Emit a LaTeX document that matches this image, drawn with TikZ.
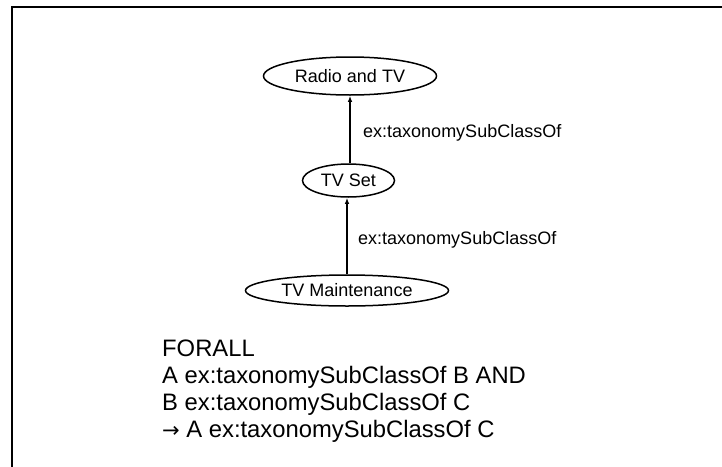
\documentclass[tikz,border=0pt]{standalone}
\usepackage{tikz}
\usepackage{xcolor}
\usepackage{fontspec}
\setmainfont{Liberation Sans}
\newfontfamily\arrowfont{DejaVu Sans}
\usetikzlibrary{shapes.geometric,arrows.meta,positioning}

\begin{document}
\begin{tikzpicture}[x=1pt,y=-1pt]
\tikzstyle{every node}+=[inner sep=0pt]
\tikzstyle{classnode}=[draw=black, ellipse, line width=1.5pt, font=\fontsize{18}{21}\selectfont]
\tikzstyle{subarrow}=[black, line width=1.3pt, -{Latex[length=6pt,width=4.5pt]}]
\tikzstyle{edgelabel}=[anchor=west, font=\fontsize{18}{21}\selectfont]
\tikzstyle{rulestyle}=[anchor=base west, font=\fontsize{23.8}{27}\selectfont]
\useasboundingbox (0,0) rectangle (722,466);
\clip (0,0) rectangle (722,466);
\draw [black, line width=2pt] (12,7) rectangle (760,500);
\node [classnode, minimum width=173pt, minimum height=38pt] (radio) at (350,76) {Radio and TV};
\node [classnode, minimum width=92pt, minimum height=33pt] (tvset) at (348.5,180.5) {TV Set};
\node [classnode, minimum width=203pt, minimum height=31pt] (maint) at (347,290.5) {TV Maintenance};
\draw [subarrow] (tvset.north -| radio.south) -- (radio.south);
\node [edgelabel] (subone) at (363,133) {ex:taxonomySubClassOf};
\draw [subarrow] (maint.north) -- (maint.north |- tvset.south);
\node [edgelabel] (subtwo) at (358,240) {ex:taxonomySubClassOf};
\node [rulestyle] (forall) at (162,356) {FORALL};
\node [rulestyle] (ruleab) at (162,383) {A ex:taxonomySubClassOf B AND};
\node [rulestyle] (rulebc) at (162,410) {B ex:taxonomySubClassOf C};
\node [rulestyle] (ruleac) at (162,437) {{\arrowfont\fontsize{21}{27}\selectfont →} A ex:taxonomySubClassOf C};
\end{tikzpicture}
\end{document}
